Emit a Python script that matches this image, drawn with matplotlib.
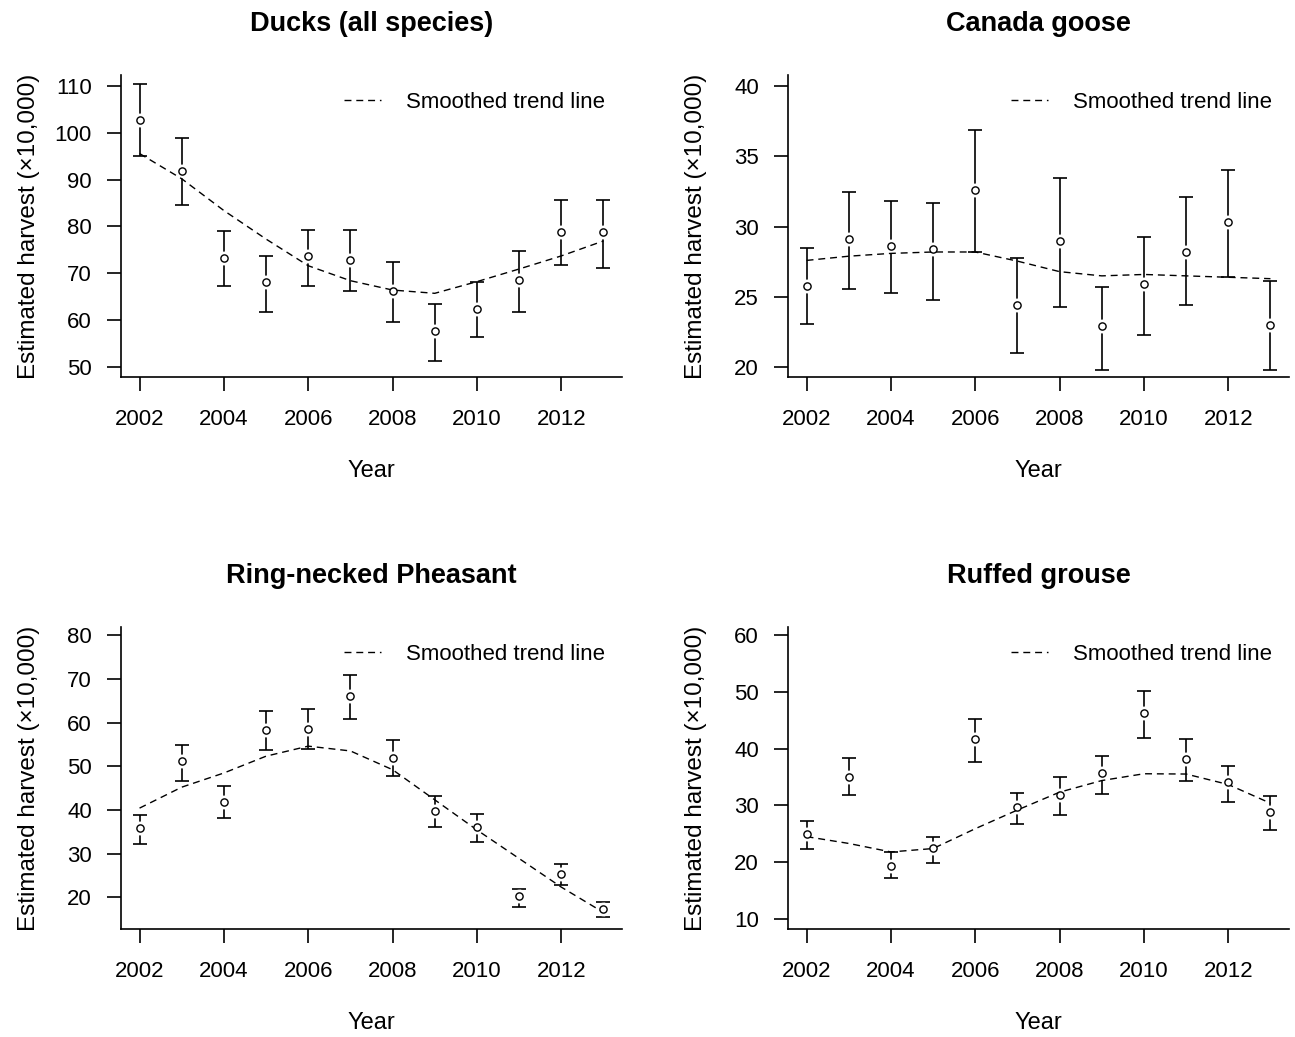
import matplotlib.pyplot as plt
import numpy as np

plt.rcParams['font.family'] = ['Liberation Sans', 'DejaVu Sans']

years = np.arange(2002, 2014)

# Ducks (all species)
ducks = [102.8, 91.9, 73.3, 68.2, 73.6, 72.9, 66.3, 57.6, 62.3, 68.5, 78.8, 78.8]
ducks_hi = [110.4, 99.0, 79.0, 73.7, 79.2, 79.2, 72.3, 63.5, 68.2, 74.8, 85.7, 85.7]
ducks_lo = [95.0, 84.5, 67.3, 61.8, 67.3, 66.2, 59.6, 51.2, 56.3, 61.8, 71.7, 71.2]
ducks_trend = [95.6, 90.2, 83.4, 77.3, 71.6, 68.4, 66.4, 65.7, 68.2, 70.9, 73.7, 76.9]

# Canada goose
goose = [25.8, 29.1, 28.6, 28.4, 32.6, 24.4, 29.0, 22.9, 25.9, 28.2, 30.3, 23.0]
goose_hi = [28.5, 32.45, 31.8, 31.7, 36.85, 27.8, 33.45, 25.7, 29.3, 32.1, 34.05, 26.1]
goose_lo = [23.06, 25.6, 25.3, 24.8, 28.2, 21.0, 24.3, 19.8, 22.3, 24.4, 26.4, 19.8]
goose_trend = [27.6, 27.9, 28.1, 28.2, 28.2, 27.55, 26.8, 26.5, 26.6, 26.5, 26.4, 26.3]

# Ring-necked Pheasant
pheasant = [35.8, 51.2, 41.8, 58.2, 58.6, 66.1, 51.9, 39.8, 36.0, 20.2, 25.4, 17.2]
pheasant_hi = [38.85, 54.8, 45.5, 62.7, 63.1, 71.0, 56.1, 43.2, 39.1, 21.9, 27.5, 18.85]
pheasant_lo = [32.2, 46.7, 38.1, 53.8, 53.85, 60.8, 47.7, 36.15, 32.7, 17.7, 22.7, 15.4]
pheasant_trend = [40.4, 45.2, 48.45, 52.3, 54.6, 53.5, 49.2, 42.3, 35.4, 28.85, 22.3, 16.5]

# Ruffed grouse
grouse = [24.9, 35.1, 19.4, 22.5, 41.8, 29.7, 31.9, 35.7, 46.3, 38.2, 34.2, 28.8]
grouse_hi = [27.3, 38.3, 21.8, 24.35, 45.2, 32.2, 35.0, 38.8, 50.2, 41.65, 37.0, 31.7]
grouse_lo = [22.3, 31.8, 17.2, 19.9, 37.7, 26.8, 28.3, 32.0, 41.9, 34.4, 30.7, 25.7]
grouse_trend = [24.5, 23.3, 21.8, 22.4, 25.9, 29.2, 32.35, 34.4, 35.6, 35.55, 33.7, 30.4]

panels = [
    ("Ducks (all species)", ducks, ducks_lo, ducks_hi, ducks_trend, (47.8, 112.4), [50, 60, 70, 80, 90, 100, 110]),
    ("Canada goose", goose, goose_lo, goose_hi, goose_trend, (19.3, 40.8), [20, 25, 30, 35, 40]),
    ("Ring-necked Pheasant", pheasant, pheasant_lo, pheasant_hi, pheasant_trend, (12.7, 81.9), [20, 30, 40, 50, 60, 70, 80]),
    ("Ruffed grouse", grouse, grouse_lo, grouse_hi, grouse_trend, (8.2, 61.5), [10, 20, 30, 40, 50, 60]),
]

W, H = 1295, 1037
fig = plt.figure(figsize=(W / 100, H / 100), dpi=100)

# axes boxes in pixels (left, top)
boxes = [(121, 75), (788, 75), (121, 627), (788, 627)]
bw, bh = 501, 302

for (title, val, lo, hi, trend, ylim, yt), (lx, ty) in zip(panels, boxes):
    ax = fig.add_axes([lx / W, (H - ty - bh) / H, bw / W, bh / H])
    val = np.array(val)
    err = [val - np.array(lo), np.array(hi) - val]
    ax.errorbar(years, val, yerr=err, fmt='none', ecolor='black',
                elinewidth=1.2, capsize=5.3, capthick=1.2, zorder=2)
    ax.plot(years, val, 'o', ms=10, mfc='white', mec='none', zorder=3)
    ax.plot(years, trend, color='black', lw=1.0, linestyle=(0, (5, 3.5)),
            zorder=4, label='Smoothed trend line')
    ax.plot(years, val, 'o', ms=5.2, mfc='white', mec='black', mew=1.0, zorder=5)

    ax.set_xlim(2001.56, 2013.44)
    ax.set_ylim(*ylim)
    ax.set_xticks([2002, 2004, 2006, 2008, 2010, 2012])
    ax.set_yticks(yt)
    for s in ['top', 'right']:
        ax.spines[s].set_visible(False)
    for s in ['left', 'bottom']:
        ax.spines[s].set_linewidth(1.2)
    ax.tick_params(axis='both', length=10, width=1.2, labelsize=16)
    ax.tick_params(axis='x', pad=13)
    ax.tick_params(axis='y', pad=11)

    ax.text(0.5, 1.17, title, transform=ax.transAxes, ha='center', va='center',
            fontsize=19.5, fontweight='bold')
    ax.set_xlabel('Year', fontsize=17)
    ax.xaxis.label.set_va('center')
    ax.xaxis.set_label_coords(0.5, -0.31)
    ax.set_ylabel('Estimated harvest (\u00d710,000)', fontsize=17.5)
    ax.yaxis.label.set_va('center')
    ax.yaxis.set_label_coords(-0.184, 0.5)

    ax.legend(loc='upper right', bbox_to_anchor=(1.0, 1.0), frameon=False,
              fontsize=16, handlelength=1.65, handletextpad=1.15,
              borderaxespad=0.35)

fig.savefig('out.png', dpi=100)
